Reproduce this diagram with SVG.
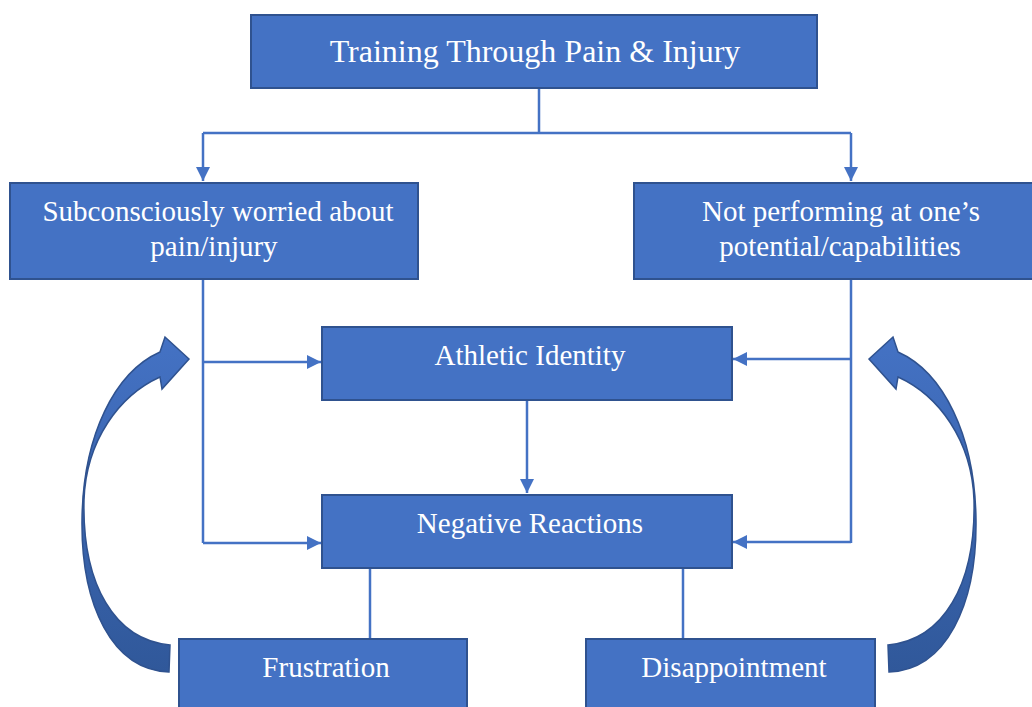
<svg xmlns="http://www.w3.org/2000/svg" width="1032" height="707" viewBox="0 0 1032 707">
<style>
.box{fill:#4472C4;stroke:#2F528F;stroke-width:2}
.t{font-family:"Liberation Serif","Times New Roman",serif;font-size:29px;fill:#FFFFFF;text-anchor:middle}
.title{font-size:32px}
.c{fill:none;stroke:#4472C4;stroke-width:2.5}
.ca{fill:url(#cg);stroke:#2F528F;stroke-width:1.5;stroke-linejoin:miter}
</style>
<defs>
<marker id="ah" markerWidth="14" markerHeight="14" refX="10" refY="5" orient="auto" markerUnits="userSpaceOnUse" viewBox="0 0 10 10">
<path d="M0,0 L10,5 L0,10 z" fill="#4472C4"/>
</marker>
<linearGradient id="cg" x1="0" y1="0" x2="0" y2="1">
<stop offset="0" stop-color="#4472C4"/>
<stop offset="1" stop-color="#30589A"/>
</linearGradient>
</defs>
<rect width="1032" height="707" fill="#FFFFFF"/>
<g id="connectors">
<path class="c" d="M539,88 V133 M203,133 H851"/>
<path class="c" d="M203,133 V181" marker-end="url(#ah)"/>
<path class="c" d="M851,133 V181" marker-end="url(#ah)"/>
<path class="c" d="M203,279 V543"/>
<path class="c" d="M203,362 H321" marker-end="url(#ah)"/>
<path class="c" d="M203,543 H321" marker-end="url(#ah)"/>
<path class="c" d="M851,279 V543"/>
<path class="c" d="M851,359 H733" marker-end="url(#ah)"/>
<path class="c" d="M851,542 H733" marker-end="url(#ah)"/>
<path class="c" d="M527,400 V493" marker-end="url(#ah)"/>
<path class="c" d="M370,568 V638"/>
<path class="c" d="M683,568 V638"/>
</g>
<g id="cycle-left">
<path class="ca" d="M169,672 C112,670 81,605 82,520 C83,435 115,372 160,352 L165,337 L189,359 L162,389 L160,377 C120,395 86,440 84,500 C82,585 115,640 170,645 Z"/>
</g>
<g id="cycle-right" transform="translate(1058,0) scale(-1,1)">
<path class="ca" d="M169,672 C112,670 81,605 82,520 C83,435 115,372 160,352 L165,337 L189,359 L162,389 L160,377 C120,395 86,440 84,500 C82,585 115,640 170,645 Z"/>
</g>
<g id="n-training">
<rect class="box" x="251" y="15" width="566" height="73"/>
<text class="t title" x="535" y="62">Training Through Pain &amp; Injury</text>
</g>
<g id="n-worried">
<rect class="box" x="10" y="183" width="408" height="96"/>
<text class="t" x="218" y="221">Subconsciously worried about</text>
<text class="t" x="214" y="256">pain/injury</text>
</g>
<g id="n-performing">
<rect class="box" x="634" y="183" width="412" height="96"/>
<text class="t" x="841" y="221">Not performing at one’s</text>
<text class="t" x="840" y="256">potential/capabilities</text>
</g>
<g id="n-identity">
<rect class="box" x="322" y="327" width="410" height="73"/>
<text class="t" x="530" y="365">Athletic Identity</text>
</g>
<g id="n-negative">
<rect class="box" x="322" y="495" width="410" height="73"/>
<text class="t" x="530" y="533">Negative Reactions</text>
</g>
<g id="n-frustration">
<rect class="box" x="179" y="639" width="288" height="80"/>
<text class="t" x="326" y="677">Frustration</text>
</g>
<g id="n-disappointment">
<rect class="box" x="586" y="639" width="289" height="80"/>
<text class="t" x="734" y="677">Disappointment</text>
</g>
</svg>
